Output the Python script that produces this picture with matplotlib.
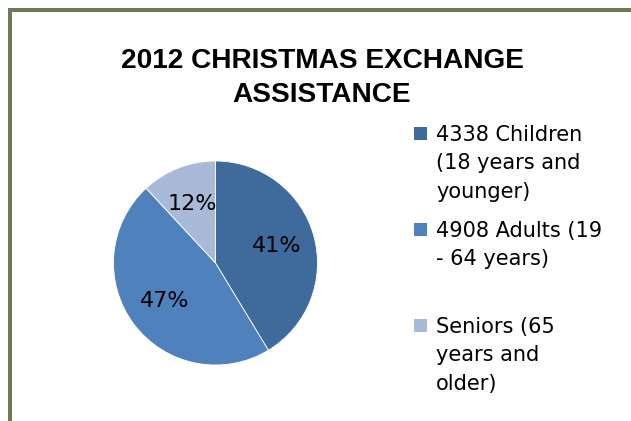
import matplotlib.pyplot as plt
from matplotlib.patches import Rectangle

# data
labels = ["4338 Children\n(18 years and\nyounger)",
          "4908 Adults (19\n- 64 years)",
          "Seniors (65\nyears and\nolder)"]
values = [4338, 4908, 1250]
colors = ["#3F6A9C", "#4F81BD", "#A9BAD9"]
title = "2012 CHRISTMAS EXCHANGE\nASSISTANCE"

W, H = 631, 421
fig = plt.figure(figsize=(W / 100, H / 100), dpi=100)

# olive border, left and top only (image is cropped)
border = "#6B7B53"
fig.add_artist(Rectangle((8 / W, 0), 4 / W, (H - 8) / H, transform=fig.transFigure,
                         color=border, lw=0))
fig.add_artist(Rectangle((8 / W, (H - 12) / H), (W - 8) / W, 4 / H, transform=fig.transFigure,
                         color=border, lw=0))

fig.text(322 / W, 1 - 78 / H, title, ha="center", va="center", fontsize=20.2,
         fontweight="bold", family="Liberation Sans", linespacing=1.45)

# pie
cx, cy, r = 215.5, 263, 102
ax = fig.add_axes([(cx - r) / W, (H - cy - r) / H, 2 * r / W, 2 * r / H])
wedges, texts, autotexts = ax.pie(values, colors=colors, startangle=90, counterclock=False,
                                  autopct="%1.0f%%", pctdistance=0.62,
                                  wedgeprops=dict(linewidth=0.6, edgecolor="white"),
                                  textprops=dict(fontsize=16, family="DejaVu Sans"))
ax.set_xlim(-1, 1)
ax.set_ylim(-1, 1)
ax.set_aspect("equal")

# legend drawn by hand
legend_y = [127, 223, 319]
for lab, col, y in zip(labels, colors, legend_y):
    fig.add_artist(Rectangle((414 / W, 1 - (y + 13) / H), 13 / W, 13 / H,
                             transform=fig.transFigure, color=col, lw=0))
    fig.text(436 / W, 1 - (y - 2) / H, lab, ha="left", va="top", fontsize=15,
             family="DejaVu Sans", linespacing=1.52)

fig.savefig("out.png", dpi=100)
